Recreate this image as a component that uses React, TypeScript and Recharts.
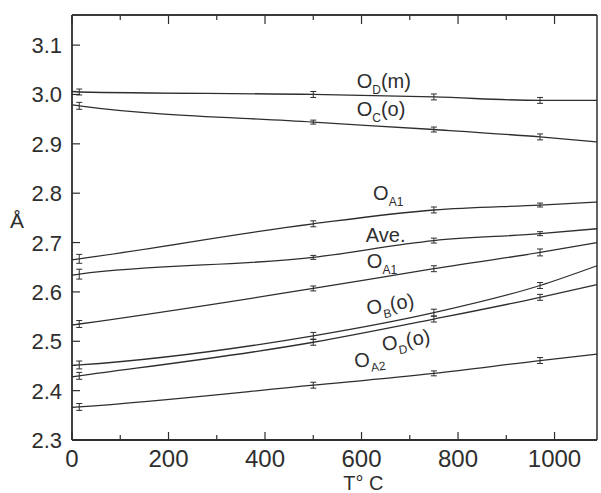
import { ErrorBar, Line, LineChart, ReferenceDot, ReferenceLine, XAxis, YAxis } from "recharts";

// temperatures (°C): axis edge, measured points, right frame edge
const temps = [0, 15, 500, 750, 970, 1088];

const odm = [3.006, 3.005, 3.0, 2.995, 2.988, 2.988];
const odmErr = [null, 0.006, 0.006, 0.006, 0.006, null];
const oco = [2.979, 2.977, 2.944, 2.929, 2.914, 2.904];
const ocoErr = [null, 0.007, 0.004, 0.005, 0.006, null];
const oa1Up = [2.665, 2.667, 2.738, 2.766, 2.776, 2.782];
const oa1UpErr = [null, 0.009, 0.006, 0.006, 0.004, null];
const ave = [2.634, 2.636, 2.67, 2.704, 2.718, 2.728];
const aveErr = [null, 0.01, 0.004, 0.005, 0.004, null];
const oa1Lo = [2.533, 2.535, 2.607, 2.647, 2.68, 2.7];
const oa1LoErr = [null, 0.007, 0.005, 0.006, 0.007, null];
const obo = [2.451, 2.452, 2.511, 2.558, 2.613, 2.653];
const oboErr = [null, 0.008, 0.007, 0.007, 0.006, null];
const odo = [2.428, 2.43, 2.498, 2.545, 2.589, 2.615];
const odoErr = [null, 0.007, 0.006, 0.006, 0.006, null];
const oa2 = [2.366, 2.367, 2.411, 2.435, 2.461, 2.474];
const oa2Err = [null, 0.007, 0.006, 0.005, 0.006, null];

const xTicks = [0, 100, 200, 300, 400, 500, 600, 700, 800, 900, 1000];
const yTicks = [2.3, 2.4, 2.5, 2.6, 2.7, 2.8, 2.9, 3.0, 3.1];
const xMax = 1088;
const yMax = 3.161;
const leftAxisWidth = 72;

// curve labels: [main, subscript, tail, T, Å, rotation]
const curveLabels: Array<[string, string, string, number, number, number]> = [
  ["O", "D", "(m)", 590, 3.013, 0],
  ["O", "C", "(o)", 590, 2.956, 0],
  ["O", "A1", "", 624, 2.786, 0],
  ["Ave.", "", "", 609, 2.701, 0],
  ["O", "A1", "", 611, 2.648, 0],
  ["O", "B", "(o)", 613, 2.553, -10],
  ["O", "D", "(o)", 645, 2.48, -10],
  ["O", "A2", "", 587, 2.446, -8],
];

const ink = "#2e2e2e";
const font = "'Liberation Sans', Arial, sans-serif";

const zip = (vals: number[], errs: Array<number | null>) =>
  temps.map((t, i) => ({ t, v: vals[i], e: errs[i] }));

const series = [
  zip(odm, odmErr),
  zip(oco, ocoErr),
  zip(oa1Up, oa1UpErr),
  zip(ave, aveErr),
  zip(oa1Lo, oa1LoErr),
  zip(obo, oboErr),
  zip(odo, odoErr),
  zip(oa2, oa2Err),
];

function BottomTick({ x, y, payload }: any) {
  const major = payload.value % 200 === 0;
  return (
    <g>
      <line x1={x} x2={x} y1={y} y2={y - (major ? 8 : 5)} stroke={ink} strokeWidth={1.2} />
      {major && (
        <text x={x} y={y + 27} textAnchor="middle" fontSize={24} fill={ink} fontFamily={font}>
          {payload.value}
        </text>
      )}
    </g>
  );
}

function LeftTick({ x, y, payload }: any) {
  return (
    <g>
      <line x1={x} x2={x + 8} y1={y} y2={y} stroke={ink} strokeWidth={1.2} />
      <text x={x - 10} y={y} dy={8} textAnchor="end" fontSize={22} fill={ink} fontFamily={font}>
        {payload.value.toFixed(1)}
      </text>
    </g>
  );
}

function RightTick({ x, y }: any) {
  return <line x1={x} x2={x - 6} y1={y} y2={y} stroke={ink} strokeWidth={1.2} />;
}

// top edge of the frame with its inward ticks, drawn from the right axis box
function TopFrame(p: any) {
  const vb = p.viewBox;
  const left = leftAxisWidth;
  const right = vb.x;
  const top = vb.y;
  return (
    <g>
      <line x1={left} x2={right} y1={top} y2={top} stroke={ink} strokeWidth={1.5} />
      {xTicks.map((t) => {
        const x = left + (t / xMax) * (right - left);
        return (
          <line key={t} x1={x} x2={x} y1={top} y2={top + (t % 200 === 0 ? 9 : 5)} stroke={ink} strokeWidth={1.2} />
        );
      })}
    </g>
  );
}

function curveLabel(main: string, sub: string, tail: string, rot: number) {
  return (props: any) => {
    const { x, y } = props.viewBox;
    return (
      <text
        x={x}
        y={y}
        fontSize={20}
        fill={ink}
        fontFamily={font}
        transform={rot ? `rotate(${rot} ${x} ${y})` : undefined}
      >
        <tspan>{main}</tspan>
        {sub && (
          <tspan dy={6} fontSize={12}>
            {sub}
          </tspan>
        )}
        {tail && <tspan dy={sub ? -6 : 0}>{tail}</tspan>}
      </text>
    );
  };
}

export default function App() {
  return (
    <div style={{ position: "absolute", left: 0, top: 0, width: 601, height: 493, background: "#fff" }}>
      <LineChart width={601} height={493} margin={{ top: 15, right: 0, bottom: 0, left: 0 }}>
        <XAxis
          dataKey="t"
          type="number"
          domain={[0, xMax]}
          ticks={xTicks}
          interval={0}
          height={53}
          tickSize={0}
          tickMargin={0}
          tick={<BottomTick />}
          stroke={ink}
          strokeWidth={1.8}
          label={{
            content: (p: any) => (
              <text
                x={p.viewBox.x + p.viewBox.width * 0.555}
                y={p.viewBox.y + 50}
                textAnchor="middle"
                fontSize={20}
                fill={ink}
                fontFamily={font}
              >
                T° C
              </text>
            ),
          }}
        />
        <YAxis
          type="number"
          domain={[2.3, yMax]}
          ticks={yTicks}
          interval={0}
          width={leftAxisWidth}
          tickSize={0}
          tickMargin={0}
          tick={<LeftTick />}
          stroke={ink}
          strokeWidth={1.8}
          label={{
            content: (p: any) => (
              <text
                x={p.viewBox.x + 17}
                y={p.viewBox.y + p.viewBox.height * 0.5}
                textAnchor="middle"
                fontSize={21}
                fill={ink}
                fontFamily={font}
              >
                Å
              </text>
            ),
          }}
        />
        <YAxis
          yAxisId="right"
          orientation="right"
          type="number"
          domain={[2.3, yMax]}
          ticks={yTicks}
          interval={0}
          width={4}
          tickSize={0}
          tickMargin={0}
          tick={<RightTick />}
          stroke={ink}
          strokeWidth={1.5}
          label={{ content: (p: any) => <TopFrame {...p} /> }}
        />
        <ReferenceLine y={yMax} stroke={ink} strokeWidth={1.5} ifOverflow="visible" />
        {series.map((d, i) => (
          <Line
            key={i}
            data={d}
            dataKey="v"
            type="monotone"
            stroke={ink}
            strokeWidth={1.3}
            dot={false}
            activeDot={false}
            isAnimationActive={false}
          >
            <ErrorBar dataKey="e" direction="y" width={3} stroke={ink} strokeWidth={1} isAnimationActive={false} />
          </Line>
        ))}
        {curveLabels.map(([main, sub, tail, t, v, rot], i) => (
          <ReferenceDot
            key={"l" + i}
            x={t}
            y={v}
            r={0}
            fill="none"
            stroke="none"
            label={curveLabel(main, sub, tail, rot)}
          />
        ))}
      </LineChart>
    </div>
  );
}
